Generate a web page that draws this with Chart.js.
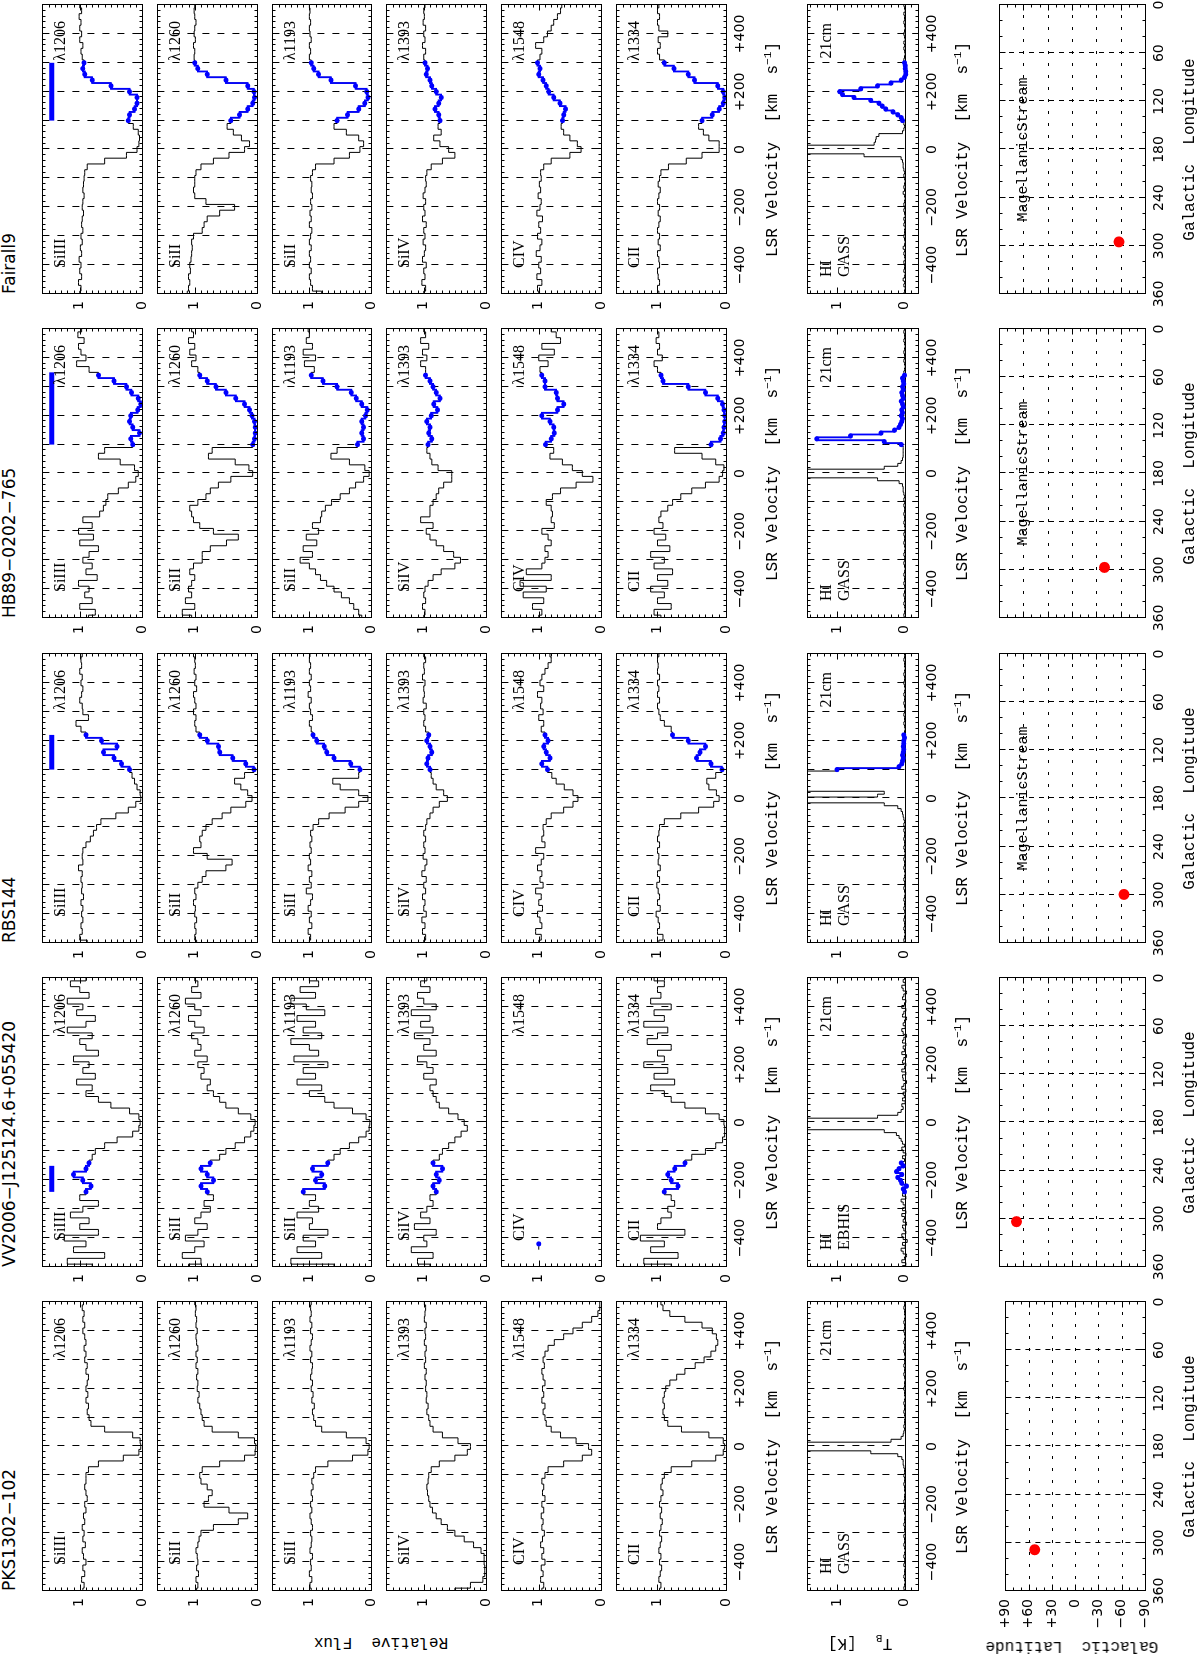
<!DOCTYPE html>
<html>
<head>
<meta charset="utf-8">
<script src="https://cdn.jsdelivr.net/npm/chart.js@4.4.0/dist/chart.umd.min.js"></script>
<style>
  html, body { margin: 0; padding: 0; background: #fff; overflow: hidden; width: 1200px; height: 1655px; }
  /* the figure is laid out landscape and turned a quarter turn counter-clockwise */
  #fig { position: absolute; left: 0; top: 0; width: 1655px; height: 1200px;
         transform-origin: 0 0; transform: translate(0, 1655px) rotate(-90deg); }
  #fig canvas { position: absolute; }
  .txt { position: absolute; white-space: nowrap; line-height: 1; color: #000; }
  .ttl { font: 17px "DejaVu Sans"; }
  .ion { font: 16px "Liberation Serif"; }
  .axt { font: 16px "Liberation Mono"; }
  .ms  { font: 15px "Liberation Mono"; }
  sup { font-size: 70%; vertical-align: 0.5em; }
  sub { font-size: 70%; vertical-align: -0.3em; }
</style>
</head>
<body>
<div id="fig"></div>
<script>
// ========= velocity grids =========
const VEL = [-500,-480,-460,-440,-420,-400,-380,-360,-340,-320,-300,-280,-260,-240,-220,-200,-180,-160,-140,-120,-100,-80,-60,-40,-20,0,20,40,60,80,100,120,140,160,180,200,220,240,260,280,300,320,340,360,380,400,420,440,460,480,500];
const VEL_HI = [-500,-490,-480,-470,-460,-450,-440,-430,-420,-410,-400,-390,-380,-370,-360,-350,-340,-330,-320,-310,-300,-290,-280,-270,-260,-250,-240,-230,-220,-210,-200,-190,-180,-170,-160,-150,-140,-130,-120,-110,-100,-90,-80,-70,-60,-50,-40,-30,-20,-10,0,10,20,30,40,50,60,70,80,90,100,110,120,130,140,150,160,170,180,190,200,210,220,230,240,250,260,270,280,290,300,310,320,330,340,350,360,370,380,390,400,410,420,430,440,450,460,470,480,490,500];

// ========= labels =========
const SOURCES = ["PKS1302\u2212102", "VV2006\u2212J125124.6+055420", "RBS144", "HB89\u22120202\u2212765", "Fairall9"];
const HI_SURVEY = ["GASS", "EBHIS", "GASS", "GASS", "GASS"];
const IONS = ["SiIII", "SiII", "SiII", "SiIV", "CIV", "CII"];
const LINES = ["\u03bb1206", "\u03bb1260", "\u03bb1193", "\u03bb1393", "\u03bb1548", "\u03bb1334"];
const VEL_TICKS = [-400, -200, 0, 200, 400];
const LON_TICKS = [0, 60, 120, 180, 240, 300, 360];
const LAT_TICKS = [-90, -60, -30, 0, 30, 60, 90];

// ========= sight line positions (l, b) =========
const GAL_L = [308.6, 303.5, 299.5, 297.0, 295.1];
const GAL_B = [52.2, 68.5, -64.0, -40.0, -57.8];
const MS_LABEL = [false, false, true, true, true];

// ========= Magellanic Stream windows (blue) =========
const WIN_PKS = null;
const WIN_VV = [-240, -140];
const WIN_VV_CIV = [-420, -420];
const WIN_RB = [100, 220];
const WIN_HB = [100, 340];
const WIN_F9 = [100, 300];
const BAR_VV = [-240, -150];
const BAR_RB = [100, 220];
const BAR_HB = [100, 350];
const BAR_F9 = [100, 300];
const BAR_FLUX = 1.45;

// ========= normalised flux, PKS1302-102 =========
const PKS_SiIII = [0.95,0.93,0.97,0.92,0.95,0.9,0.94,0.96,0.91,0.95, 0.93,0.96,0.92,0.94,0.9,0.92,0.88,0.9,0.92,0.9, 0.9,0.86,0.7,0.3,0.05, 0.02,0.03,0.15,0.6,0.82, 0.85,0.88,0.86,0.9,0.87, 0.9,0.88,0.86,0.9,0.88, 0.92,0.9,0.93,0.9,0.92, 0.95,0.92,0.95,0.93,0.96, 0.94];
const PKS_SiII1260 = [0.97,0.95,0.98,0.94,0.97,0.95,0.96,0.98,0.95,0.93, 0.9,0.7,0.3,0.15,0.45,0.85,0.78,0.72,0.8,0.9, 0.92,0.88,0.6,0.2,0.03, 0.02,0.04,0.3,0.72,0.85, 0.88,0.9,0.92,0.95,0.93, 0.96,0.95,0.97,0.95,0.98, 0.96,0.98,0.95,0.97,0.98, 0.96,0.98,0.97,0.99,0.98, 1.0];
const PKS_SiII1193 = [0.97,0.99,0.96,1.0,0.97,0.98,0.95,0.99,0.97,0.96, 0.98,0.95,0.97,0.99,0.96,0.98,0.95,0.97,0.94,0.96, 0.93,0.9,0.7,0.3,0.05, 0.03,0.08,0.4,0.8,0.9, 0.93,0.95,0.92,0.96,0.94, 0.97,0.95,0.98,0.96,0.95, 0.98,0.96,0.99,0.97,0.95, 0.98,0.96,0.99,0.97,0.98, 0.97];
const PKS_SiIV = [0.5,0.25,0.05,0.02,0.02,0.03,0.03,0.08,0.2,0.35, 0.5,0.62,0.72,0.8,0.86,0.9,0.92,0.94,0.95,0.93, 0.92,0.88,0.75,0.5,0.3, 0.25,0.45,0.7,0.85,0.9, 0.92,0.95,0.93,0.96,0.95, 0.97,0.96,0.98,0.96,0.99, 0.97,0.98,0.96,0.99,0.97, 0.98,0.96,0.99,0.98,0.97, 0.99];
const PKS_CIV = [0.95,0.92,0.97,0.93,0.96,0.9,0.95,0.92,0.97,0.94, 0.91,0.95,0.93,0.96,0.92,0.95,0.9,0.94,0.92,0.95, 0.9,0.85,0.6,0.3,0.15, 0.2,0.4,0.65,0.8,0.88, 0.9,0.93,0.9,0.95,0.92, 0.94,0.9,0.93,0.95,0.91, 0.93,0.9,0.85,0.75,0.6, 0.45,0.3,0.15,0.05,0.02, 0.02];
const PKS_CII = [0.97,0.95,0.98,0.96,0.94,0.97,0.95,0.98,0.96,0.94, 0.97,0.95,0.93,0.96,0.94,0.97,0.95,0.92,0.95,0.93, 0.9,0.8,0.5,0.15,0.04, 0.02,0.04,0.25,0.65,0.85, 0.9,0.92,0.9,0.92,0.9, 0.88,0.82,0.72,0.6,0.45, 0.32,0.22,0.15,0.12,0.14, 0.2,0.35,0.6,0.82,0.92, 0.95];

// ========= normalised flux, VV2006-J125124.6+055420 =========
const VV_SiIII = [0.8,1.2,0.6,1.1,0.9,1.25,0.7,1.0,0.85,1.15, 0.95,0.7,1.0,0.9,0.82,0.95,1.1,0.9,0.85,0.8, 0.75,0.6,0.4,0.15,0.05, 0.03,0.05,0.2,0.5,0.7, 0.9,0.8,1.05,0.75,0.95, 0.85,1.1,0.7,0.9,1.0, 0.8,1.2,0.9,0.75,1.05, 0.95,1.2,0.85,1.0,1.15, 0.9];
const VV_SiII1260 = [1.1,0.9,1.2,1.0,0.85,1.15,0.95,0.8,1.0,0.9, 0.75,0.85,0.7,0.8,0.9,0.7,0.8,0.9,0.75,0.6, 0.5,0.35,0.2,0.1,0.05, 0.03,0.1,0.3,0.5,0.6, 0.7,0.8,0.75,0.9,0.85, 0.95,0.8,1.0,0.9,0.95, 1.05,0.85,1.0,1.1,0.9, 1.0,1.15,0.9,1.05,0.95, 1.0];
const VV_SiII1193 = [0.6,1.3,0.8,1.2,0.9,1.1,0.7,1.0,0.95,1.2, 0.85,1.0,0.9,1.1,0.75,0.9,0.8,0.95,0.7,0.6, 0.5,0.35,0.2,0.08,0.03, 0.02,0.08,0.3,0.6,0.75, 1.0,0.8,1.2,0.9,1.1, 0.7,1.25,0.85,1.0,1.3, 0.8,1.1,0.9,1.2,0.75, 1.05,1.3,0.9,1.15,0.85, 1.0];
const VV_SiIV = [0.9,1.1,0.85,1.2,0.95,1.0,0.8,1.15,0.9,1.05, 0.95,0.85,0.9,0.8,0.85,0.75,0.8,0.7,0.85,0.75, 0.7,0.6,0.5,0.4,0.3, 0.35,0.45,0.6,0.75,0.8, 0.85,0.9,0.8,1.0,0.85, 0.95,1.1,0.8,1.0,0.9, 1.15,0.85,1.05,0.9,1.2, 0.8,1.0,1.1,0.9,1.05, 0.95];
const VV_CIV = [null, null, null, 1.0, 1.0];
const VV_CII = [0.8,1.2,0.7,1.1,0.9,1.25,0.6,1.0,0.95,0.8, 0.85,0.75,0.8,0.9,0.7,0.8,0.85,0.75,0.6,0.5, 0.3,0.15,0.05,0.02,0.02, 0.03,0.1,0.3,0.6,0.8, 0.9,1.1,0.75,1.05,0.85, 1.2,0.9,1.0,0.8,1.15, 1.0,0.85,1.2,0.9,1.05, 0.8,1.1,0.95,1.0,0.9, 1.05];

// ========= normalised flux, RBS144 =========
const RB_SiIII = [0.88,1.0,0.96,0.98,0.95,0.97,0.95,0.98,0.94,0.97, 0.96,0.98,0.96,1.02,0.95,0.96,0.95,0.9,0.83,0.78, 0.73,0.66,0.42,0.22,0.1, 0.02,0.03,0.08,0.12,0.16, 0.2,0.33,0.45,0.62,0.4, 0.65,0.9,0.98,1.06,0.86, 0.95,0.96,1.0,0.97,0.95, 0.98,0.96,1.0,0.97,0.98, 0.96];
const RB_SiII1260 = [0.97,1.0,0.98,1.0,0.97,1.0,0.99,1.02,0.98,1.0, 0.95,0.88,0.82,0.5,0.4,0.8,1.02,0.9,0.92,0.88, 0.82,0.72,0.56,0.42,0.18, 0.08,0.15,0.26,0.36,0.2, 0.05,0.18,0.39,0.6,0.62, 0.8,0.92,0.98,1.0,0.98, 1.02,0.98,1.0,1.02,0.97, 1.0,0.98,1.01,0.99,1.0, 1.02];
const RB_SiII1193 = [1.0,0.98,1.02,0.96,1.0,0.97,1.02,0.98,0.95,1.05, 0.97,1.0,0.96,1.02,0.98,1.0,0.97,0.99,0.96,0.98, 0.94,0.85,0.68,0.42,0.2, 0.05,0.2,0.5,0.62,0.2, 0.18,0.33,0.6,0.72,0.76, 0.88,0.94,0.97,1.0,0.95, 0.98,1.0,0.97,1.02,0.98, 1.0,0.97,1.0,0.98,1.0, 0.99];
const RB_SiIV = [1.0,0.97,1.02,0.98,1.03,0.96,1.0,0.98,1.02,0.97, 1.0,0.96,1.03,0.98,0.95,1.01,0.98,1.0,0.97,1.0, 0.97,0.95,0.9,0.85,0.75, 0.62,0.68,0.8,0.85,0.88, 0.9,0.95,0.93,0.87,0.9, 0.95,0.92,0.97,1.0,0.98, 1.0,0.96,1.01,0.99,1.0, 0.98,1.02,0.99,1.0,0.97, 1.0];
const RB_CIV = [1.0,0.96,1.05,0.95,0.98,1.02,0.94,1.0,0.96,1.05, 0.93,0.98,0.95,1.02,0.96,0.92,1.05,0.9,0.95,0.92, 0.93,0.88,0.8,0.6,0.45, 0.37,0.45,0.59,0.72,0.79, 0.86,0.95,0.82,0.88,0.92, 0.85,0.9,0.96,0.92,1.0, 0.93,0.97,0.95,1.02,0.92, 0.98,0.95,0.9,0.85,0.8, 0.82];
const RB_CII = [0.98,0.92,1.0,0.97,0.99,1.02,0.96,1.0,0.97,0.99, 1.01,0.97,1.0,0.96,0.99,0.98,1.0,0.97,1.0,0.98, 0.97,0.9,0.66,0.4,0.18, 0.1,0.14,0.25,0.28,0.15, 0.06,0.22,0.43,0.38,0.3, 0.55,0.78,0.8,0.9,0.96, 0.98,1.0,0.97,1.0,0.98, 1.0,0.97,1.0,0.99,1.0, 0.98];

// ========= normalised flux, HB89-0202-765 =========
const HB_SiIII = [0.86,0.75,1.0,0.8,0.92,0.85,1.02,0.72,0.9,0.8, 0.95,0.85,0.7,1.0,0.78,1.02,0.8,0.95,0.68,0.62, 0.58,0.55,0.38,0.22,0.1, 0.06,0.12,0.35,0.7,0.6, 0.15,0.18,0.04,0.15,0.2, 0.18,0.07,0.02,0.06,0.17, 0.25,0.45,0.7,0.85,1.05, 0.9,0.98,1.02,0.93,1.03, 0.97];
const HB_SiII1260 = [1.05,1.2,1.0,1.15,1.05,1.1,1.05,1.0,1.08,1.02, 0.88,0.88,0.75,0.49,0.3,0.7,0.92,1.02,1.05,1.08, 0.95,0.82,0.75,0.62,0.42, 0.07,0.13,0.35,0.78,0.72, 0.07,0.04,0.03,0.03,0.04, 0.08,0.12,0.2,0.34,0.5, 0.66,0.8,0.92,0.95,1.05, 0.98,1.08,1.0,1.1,1.02, 1.05];
const HB_SiII1193 = [0.15,0.2,0.28,0.35,0.48,0.6,0.72,0.82,0.9,1.0, 1.15,0.95,1.1,0.88,1.05,0.85,0.95,0.82,0.8,0.74, 0.64,0.5,0.35,0.25,0.12, 0.03,0.1,0.35,0.65,0.55, 0.22,0.12,0.15,0.12,0.15, 0.09,0.06,0.15,0.24,0.32, 0.55,0.78,0.97,0.92,1.08, 0.9,1.1,0.95,1.05,1.0, 1.02];
const HB_SiIV = [1.0,0.98,1.02,0.97,1.0,0.98,0.93,0.85,0.72,0.5, 0.41,0.52,0.68,0.8,0.9,0.96,0.85,1.05,0.9,0.9, 0.85,0.8,0.76,0.68,0.55, 0.55,0.77,0.87,0.9,0.95, 0.93,0.87,0.92,0.9,0.95, 0.88,0.78,0.84,0.74,0.8, 0.85,0.9,0.97,0.97,1.05, 0.95,1.02,0.92,1.05,0.97, 1.0];
const HB_CIV = [1.0,0.95,1.1,0.92,1.25,0.88,1.3,0.8,1.2,0.95, 0.9,0.85,0.9,0.8,0.85,0.95,0.75,0.8,0.78,0.8, 0.88,0.78,0.65,0.4,0.13, 0.3,0.46,0.62,0.82,0.76, 0.89,0.8,0.75,0.76,0.82, 0.95,0.7,0.6,0.7,0.72, 0.9,0.9,0.95,0.98,0.85, 1.0,0.75,0.95,0.65,0.72, 0.8];
const HB_CII = [0.95,1.05,0.8,1.0,0.9,1.1,0.85,1.0,0.78,1.05, 0.9,1.1,0.82,1.0,0.88,1.05,0.92,0.98,0.95,0.85, 0.78,0.66,0.5,0.3,0.1, 0.05,0.03,0.15,0.35,0.75, 0.22,0.08,0.04,0.03,0.02, 0.02,0.03,0.05,0.12,0.3, 0.55,0.92,0.95,1.0,1.05, 0.93,1.0,0.97,1.02,0.98, 1.0];

// ========= normalised flux, Fairall9 =========
const F9_SiIII = [1.0,0.98,1.02,0.97,1.0,0.98,1.01,0.97,0.99,0.96, 0.98,0.95,0.97,0.96,0.94,0.96,0.95,0.93,0.95,0.94, 0.93,0.92,0.88,0.6,0.25, 0.08,0.05,0.04,0.06,0.14, 0.22,0.2,0.12,0.08,0.08, 0.2,0.5,0.8,0.92,0.95, 0.93,0.96,0.98,0.95,1.0, 0.97,1.0,0.98,1.01,0.97, 1.0];
const F9_SiII1260 = [1.12,1.1,1.08,1.1,1.07,1.08,1.06,1.05,1.04,1.05, 1.02,0.88,0.85,0.8,0.6,0.36,0.82,1.0,1.02,1.0, 1.0,0.98,0.9,0.7,0.45, 0.2,0.12,0.25,0.38,0.48, 0.42,0.28,0.15,0.07,0.04, 0.05,0.15,0.5,0.8,0.95, 1.0,1.01,1.0,1.02,0.99, 1.01,1.0,0.98,1.0,1.01, 1.0];
const F9_SiII1193 = [0.8,0.95,0.98,1.0,0.97,1.0,0.98,1.0,0.97,1.0, 0.98,0.96,1.0,0.97,0.99,0.96,0.98,0.95,0.97,0.96, 0.98,0.95,0.9,0.6,0.35, 0.18,0.12,0.2,0.4,0.6, 0.55,0.38,0.2,0.1,0.05, 0.07,0.25,0.65,0.85,0.93, 0.97,1.0,0.98,1.0,0.97, 0.99,1.0,0.98,1.0,0.99, 1.0];
const F9_SiIV = [1.0,0.97,1.03,0.98,1.0,0.96,1.02,0.99,0.97,1.01, 0.98,1.0,0.96,1.02,0.98,1.0,0.97,1.01,0.98,0.96, 0.97,0.95,0.88,0.7,0.5, 0.6,0.74,0.84,0.72,0.77, 0.74,0.76,0.82,0.76,0.72, 0.8,0.87,0.9,0.96,0.94, 0.98,1.0,0.97,1.02,0.98, 1.0,0.97,1.01,0.99,1.0, 0.98];
const F9_CIV = [1.0,1.02,0.95,1.03,0.97,1.0,0.96,1.04,0.98,0.95, 1.02,0.97,1.0,0.94,1.03,0.98,0.96,1.01,0.97,0.99, 0.96,0.97,0.92,0.8,0.5, 0.32,0.38,0.5,0.6,0.64, 0.62,0.6,0.57,0.66,0.76, 0.84,0.88,0.93,1.0,0.98, 1.02,0.98,0.95,1.05,0.92, 0.86,0.8,0.76,0.7,0.65, 0.63];
const F9_CII = [0.98,1.0,0.97,0.99,1.0,0.97,0.98,1.0,0.96,0.99, 0.97,1.0,0.98,0.96,0.99,0.97,1.0,0.98,0.96,0.99, 0.97,0.95,0.84,0.58,0.35, 0.1,0.1,0.25,0.33,0.4, 0.35,0.2,0.1,0.04,0.02, 0.04,0.12,0.46,0.55,0.76, 0.9,0.97,1.0,0.96,0.99, 0.85,0.98,1.0,0.97,1.0, 0.98];

// ========= 21cm brightness (normalised) =========
const PKS_HI = [0.0,0.01,0.0,-0.01,0.0,0.01,0.0,0.0,-0.01,0.01, 0.0,0.0,0.01,0.0,-0.01,0.0,0.01,0.0,0.0,0.01, -0.01,0.0,0.0,0.01,0.0,0.0,-0.01,0.0,0.01,0.0, 0.0,0.01,0.0,0.0,-0.01,0.0,0.0,0.01,0.0,0.0, 0.01,0.0,0.0,0.01,0.02,0.02,0.04,0.1,0.5,3.0, 3.0,2.0,0.2,0.05,0.02,0.01,0.0,0.01,0.0,0.0, -0.01,0.0,0.01,0.0,0.0,0.01,0.0,-0.01,0.0,0.0, 0.01,0.0,0.0,-0.01,0.0,0.01,0.0,0.0,0.01,0.0, 0.0,-0.01,0.0,0.01,0.0,0.0,0.01,0.0,-0.01,0.0, 0.01,0.0,0.0,0.01,0.0,-0.01,0.0,0.0,0.01,0.0, 0.0];
const VV_HI = [0.03,-0.02,0.04,0.0,-0.03,0.02,0.05,-0.01,0.03,-0.04, 0.02,0.04,-0.02,0.01,0.03,-0.03,0.02,0.0,0.04,-0.02, 0.03,-0.01,0.02,0.05,-0.02,0.03,0.0,0.02,-0.03,0.04, 0.06,0.1,0.04,0.12,0.08,0.02,0.05,0.0,0.03,-0.02, 0.02,0.04,0.0,0.03,0.05,0.08,0.12,0.3,1.5,3.0, 3.0,1.8,0.4,0.1,0.05,0.02,0.04,-0.01,0.03,0.0, 0.02,-0.02,0.04,0.01,-0.03,0.02,0.03,-0.02,0.04,0.0, -0.02,0.03,0.01,-0.03,0.04,0.0,0.02,-0.02,0.03,0.01, -0.03,0.02,0.04,-0.01,0.02,0.0,-0.03,0.03,0.01,-0.02, 0.04,0.0,-0.02,0.03,0.01,-0.03,0.02,0.04,-0.01,0.02, 0.0];
const RB_HI = [0.0,0.01,0.0,-0.01,0.0,0.01,0.0,0.0,0.01,0.0, -0.01,0.0,0.01,0.0,0.0,0.01,0.0,-0.01,0.0,0.01, 0.0,0.0,0.01,0.0,-0.01,0.0,0.01,0.0,0.0,0.01, 0.0,-0.01,0.0,0.01,0.0,0.0,0.01,0.0,0.0,0.01, 0.0,0.01,0.0,0.01,0.02,0.03,0.05,0.1,0.3,3.0, 3.0,0.4,0.3,3.0,3.0,3.0,3.0,3.0,3.0,2.0, 1.0,0.08,0.04,0.03,0.02,0.03,0.02,0.01,0.02,0.01, 0.01,0.0,0.01,0.0,-0.01,0.0,0.01,0.0,0.0,0.01, 0.0,-0.01,0.0,0.01,0.0,0.0,0.01,0.0,-0.01,0.0, 0.01,0.0,0.0,0.01,0.0,-0.01,0.0,0.0,0.01,0.0, 0.0];
const HB_HI = [0.0,0.01,0.0,-0.01,0.0,0.01,0.0,0.0,0.01,0.0, -0.01,0.0,0.01,0.0,0.0,0.01,0.0,-0.01,0.0,0.01, 0.0,0.0,0.01,0.0,-0.01,0.0,0.01,0.0,0.0,0.01, 0.0,-0.01,0.0,0.01,0.0,0.0,0.01,0.0,0.0,0.01, 0.0,0.01,0.0,0.01,0.02,0.02,0.03,0.08,0.4,3.0, 3.0,2.0,0.3,0.1,0.05,0.03,0.02,0.02,0.02,0.02, 0.05,0.3,1.3,0.8,0.35,0.15,0.08,0.06,0.04,0.03, 0.05,0.03,0.04,0.02,0.03,0.05,0.02,0.03,0.04,0.02, 0.03,0.01,0.02,0.03,0.0,0.01,0.0,-0.01,0.0,0.01, 0.0,0.0,0.01,0.0,-0.01,0.0,0.01,0.0,0.0,0.01, 0.0];
const F9_HI = [0.01,0.0,-0.01,0.01,0.0,0.02,0.0,-0.01,0.01,0.0, 0.0,0.01,-0.01,0.0,0.01,0.0,0.02,0.0,-0.01,0.0, 0.01,0.0,0.0,-0.01,0.01,0.0,0.01,-0.01,0.0,0.01, 0.0,0.01,0.0,-0.01,0.0,0.02,0.0,0.01,0.0,-0.01, 0.0,0.01,0.0,0.01,0.02,0.02,0.03,0.05,0.6,3.0, 3.0,3.0,0.45,0.43,0.42,0.38,0.03,0.01,0.0,0.01, 0.03,0.05,0.1,0.17,0.28,0.33,0.38,0.5,0.75,0.92, 0.96,0.65,0.4,0.2,0.05,0.0,-0.02,-0.02,-0.01,-0.01, 0.0,0.01,0.0,-0.01,0.0,0.01,0.0,0.01,-0.01,0.0, 0.01,0.0,-0.01,0.0,0.01,0.0,0.0,0.01,-0.01,0.0, 0.01];

// ========= tables built from the arrays =========
const ABS = [
  [PKS_SiIII, PKS_SiII1260, PKS_SiII1193, PKS_SiIV, PKS_CIV, PKS_CII],
  [VV_SiIII, VV_SiII1260, VV_SiII1193, VV_SiIV, VV_CIV, VV_CII],
  [RB_SiIII, RB_SiII1260, RB_SiII1193, RB_SiIV, RB_CIV, RB_CII],
  [HB_SiIII, HB_SiII1260, HB_SiII1193, HB_SiIV, HB_CIV, HB_CII],
  [F9_SiIII, F9_SiII1260, F9_SiII1193, F9_SiIV, F9_CIV, F9_CII],
];
const HI = [PKS_HI, VV_HI, RB_HI, HB_HI, F9_HI];
const WIN = [WIN_PKS, WIN_VV, WIN_RB, WIN_HB, WIN_F9];
const WIN_ABS = [
  [WIN_PKS, WIN_PKS, WIN_PKS, WIN_PKS, WIN_PKS, WIN_PKS],
  [WIN_VV, WIN_VV, WIN_VV, WIN_VV, WIN_VV_CIV, WIN_VV],
  [WIN_RB, WIN_RB, WIN_RB, WIN_RB, WIN_RB, WIN_RB],
  [WIN_HB, WIN_HB, WIN_HB, WIN_HB, WIN_HB, WIN_HB],
  [WIN_F9, WIN_F9, WIN_F9, WIN_F9, WIN_F9, WIN_F9],
];
const BAR = [null, BAR_VV, BAR_RB, BAR_HB, BAR_F9];

// ========= layout (landscape figure coordinates) =========
const COL_LEFT = [64, 388, 712, 1037, 1361];
const PANEL_W = 289;
const ABS_TOP = [37, 152, 267, 381, 496, 611, 726];
const HI_TOP = 802, HI_H = 116;
const MAP_TOP = 999, MAP_H = 146;
const BLUE = "#0000ff";

const fig = document.getElementById("fig");

function fmtSigned(v) {
  if (v > 0) return "+" + v;
  if (v < 0) return "\u2212" + (-v);
  return "0";
}

// frame, inward ticks and dashed guide lines, all placed through the chart scales
const deco = {
  id: "deco",
  beforeDatasetsDraw(chart, args, o) {
    const { ctx, chartArea: a } = chart;
    const sx = chart.scales.x, sy = chart.scales.y;
    ctx.save();
    ctx.strokeStyle = "#000";
    ctx.lineWidth = 1;
    ctx.setLineDash(o.xDashPattern || [6, 6]);
    for (const v of o.xDash || []) {
      const p = Math.round(sx.getPixelForValue(v)) + 0.5;
      ctx.beginPath(); ctx.moveTo(p, a.top); ctx.lineTo(p, a.bottom); ctx.stroke();
    }
    ctx.setLineDash(o.yDashPattern || [6, 6]);
    for (const v of o.yDash || []) {
      const p = Math.round(sy.getPixelForValue(v)) + 0.5;
      ctx.beginPath(); ctx.moveTo(a.left, p); ctx.lineTo(a.right, p); ctx.stroke();
    }
    ctx.setLineDash([]);
    if (o.zeroLine) {
      const p = Math.round(sy.getPixelForValue(0)) + 0.5;
      ctx.beginPath(); ctx.moveTo(a.left, p); ctx.lineTo(a.right, p); ctx.stroke();
    }
    ctx.restore();
  },
  afterDatasetsDraw(chart, args, o) {
    const { ctx, chartArea: a } = chart;
    const sx = chart.scales.x, sy = chart.scales.y;
    const L = Math.round(a.left) + 0.5, R = Math.round(a.right) + 0.5;
    const T = Math.round(a.top) + 0.5, B = Math.round(a.bottom) + 0.5;
    ctx.save();
    ctx.strokeStyle = "#000";
    ctx.lineWidth = 1;
    ctx.setLineDash([]);
    ctx.strokeRect(L, T, R - L, B - T);
    ctx.beginPath();
    const nx = Math.round((sx.max - sx.min) / o.xMinor);
    for (let i = 0; i <= nx; i++) {
      const v = sx.min + i * o.xMinor;
      const r = v / o.xMajor;
      const len = Math.abs(r - Math.round(r)) < 1e-6 ? 6 : 3;
      const p = Math.round(sx.getPixelForValue(v)) + 0.5;
      ctx.moveTo(p, B); ctx.lineTo(p, B - len);
      ctx.moveTo(p, T); ctx.lineTo(p, T + len);
    }
    const ny = Math.round((sy.max - sy.min) / o.yMinor + 1e-6);
    for (let i = 0; i <= ny; i++) {
      const v = sy.min + i * o.yMinor;
      const r = v / o.yMajor;
      const len = Math.abs(r - Math.round(r)) < 1e-6 ? 6 : 3;
      const p = Math.round(sy.getPixelForValue(v)) + 0.5;
      ctx.moveTo(L, p); ctx.lineTo(L + len, p);
      ctx.moveTo(R, p); ctx.lineTo(R - len, p);
    }
    ctx.stroke();
    ctx.restore();
  }
};

function addCanvas(x, y, w, h, padL, padR, padT, padB) {
  const c = document.createElement("canvas");
  const W = w + padL + padR, H = h + padT + padB;
  c.width = W; c.height = H;
  c.style.width = W + "px"; c.style.height = H + "px";
  c.style.left = (x - padL) + "px"; c.style.top = (y - padT) + "px";
  fig.appendChild(c);
  return c;
}

function addText(html, x, y, cls, anchor, rotate) {
  const d = document.createElement("div");
  d.className = "txt " + cls;
  d.innerHTML = html;
  d.style.left = x + "px";
  d.style.top = y + "px";
  const tx = anchor === "c" ? "-50%" : anchor === "r" ? "-100%" : "0";
  d.style.transform = "translate(" + tx + ", -50%)" + (rotate ? " rotate(-90deg)" : "");
  fig.appendChild(d);
}

const TICK_FONT = { family: "DejaVu Sans", size: 14 };

function spectrumChart(canvas, vel, flux, win, bar, o) {
  const pts = [];
  flux.forEach((f, i) => { if (f !== null) pts.push({ x: vel[i], y: f }); });
  const blue = win ? pts.filter(p => p.x >= win[0] && p.x <= win[1]) : [];
  const datasets = [
    { data: pts, borderColor: "#000", borderWidth: 1, pointRadius: 0, stepped: "middle", order: 3 },
    { data: blue, borderColor: BLUE, backgroundColor: BLUE, borderWidth: 1.8, pointRadius: 2.5,
      pointBorderWidth: 0, pointBackgroundColor: BLUE, stepped: "middle", order: 2 },
  ];
  if (bar) {
    datasets.push({ data: [{ x: bar[0], y: BAR_FLUX }, { x: bar[1], y: BAR_FLUX }],
      borderColor: BLUE, borderWidth: 5, borderCapStyle: "butt", pointRadius: 0, order: 1 });
  }
  return new Chart(canvas, {
    type: "line",
    data: { datasets },
    plugins: [deco],
    options: {
      responsive: false, animation: false, devicePixelRatio: 1, events: [],
      layout: { padding: { left: 0, right: o.padR, top: o.padT, bottom: o.showX ? 0 : o.padB } },
      plugins: {
        legend: { display: false }, tooltip: { enabled: false },
        deco: { xDash: [-400, -300, -200, -100, 0, 100, 200, 300, 400], xDashPattern: [7, 8],
                xMinor: 20, xMajor: 100, yMinor: 0.1, yMajor: 1, zeroLine: o.zeroLine }
      },
      scales: {
        x: {
          type: "linear", min: -500, max: 500, display: o.showX,
          grid: { display: false, drawTicks: false }, border: { display: false },
          afterBuildTicks: s => { s.ticks = VEL_TICKS.map(v => ({ value: v })); },
          afterFit: s => { s.height = o.padB; },
          ticks: { callback: v => fmtSigned(v), font: TICK_FONT, color: "#000", padding: 6, maxRotation: 0, autoSkip: false }
        },
        y: {
          type: "linear", min: o.yMin, max: o.yMax,
          grid: { display: false, drawTicks: false }, border: { display: false },
          afterBuildTicks: s => { s.ticks = [{ value: 0 }, { value: 1 }]; },
          afterFit: s => { s.width = o.padL; },
          ticks: { font: TICK_FONT, color: "#000", padding: 7 }
        }
      }
    }
  });
}

function mapChart(canvas, l, b, o) {
  return new Chart(canvas, {
    type: "scatter",
    data: { datasets: [{ data: [{ x: l, y: b }], pointRadius: 5.5, pointBorderWidth: 0,
                         pointBackgroundColor: "#ff0000", backgroundColor: "#ff0000" }] },
    plugins: [deco],
    options: {
      responsive: false, animation: false, devicePixelRatio: 1, events: [],
      layout: { padding: { left: 0, right: o.padR, top: o.padT, bottom: 0 } },
      plugins: {
        legend: { display: false }, tooltip: { enabled: false },
        deco: { xDash: [60, 120, 180, 240, 300], xDashPattern: [5, 5],
                yDash: [-60, -30, 0, 30, 60], yDashPattern: [3, 9],
                xMinor: 20, xMajor: 60, yMinor: 10, yMajor: 30 }
      },
      scales: {
        x: {
          type: "linear", min: 0, max: 360, reverse: true,
          grid: { display: false, drawTicks: false }, border: { display: false },
          afterBuildTicks: s => { s.ticks = LON_TICKS.map(v => ({ value: v })); },
          afterFit: s => { s.height = o.padB; },
          ticks: { font: TICK_FONT, color: "#000", padding: 6, maxRotation: 0, autoSkip: false }
        },
        y: {
          type: "linear", min: -90, max: 90,
          grid: { display: false, drawTicks: false }, border: { display: false },
          afterBuildTicks: s => { s.ticks = LAT_TICKS.map(v => ({ value: v })); },
          afterFit: s => { s.width = o.padL; },
          ticks: { display: o.latLabels, callback: v => fmtSigned(v), font: TICK_FONT, color: "#000", padding: 8, autoSkip: false }
        }
      }
    }
  });
}

// ========= build the grid of panels =========
for (let c = 0; c < 5; c++) {
  const x0 = COL_LEFT[c];
  const xc = x0 + PANEL_W / 2;

  addText(SOURCES[c], x0, 9, "ttl", "l");

  for (let k = 0; k < 6; k++) {
    const top = ABS_TOP[k], h = ABS_TOP[k + 1] - ABS_TOP[k];
    const last = k === 5;
    const o = { padL: 40, padR: 8, padT: 10, padB: last ? 40 : 10, showX: last, yMin: 0, yMax: 1.6 };
    const cv = addCanvas(x0, top, PANEL_W, h, o.padL, o.padR, o.padT, o.padB);
    spectrumChart(cv, VEL, ABS[c][k], WIN_ABS[c][k], k === 0 ? BAR[c] : null, o);
    addText(IONS[k], x0 + 26, top + 23, "ion", "l");
    addText(LINES[k], x0 + PANEL_W - 16, top + 23, "ion", "r");
  }
  addText("LSR Velocity&nbsp;&nbsp;[km&nbsp;&nbsp;s<sup>\u22121</sup>]", xc, 772, "axt", "c");

  // 21cm panel
  const oh = { padL: 40, padR: 8, padT: 10, padB: 40, showX: true, yMin: -0.2, yMax: 1.44, zeroLine: true };
  const ch = addCanvas(x0, HI_TOP, PANEL_W, HI_H, oh.padL, oh.padR, oh.padT, oh.padB);
  spectrumChart(ch, VEL_HI, HI[c], WIN[c], null, oh);
  addText("HI", x0 + 17, HI_TOP + 24, "ion", "l");
  addText(HI_SURVEY[c], x0 + 17, HI_TOP + 42, "ion", "l");
  addText("21cm", x0 + PANEL_W - 18, HI_TOP + 24, "ion", "r");
  addText("LSR Velocity&nbsp;&nbsp;[km&nbsp;&nbsp;s<sup>\u22121</sup>]", xc, 962, "axt", "c");

  // sky position
  const om = { padL: 50, padR: 8, padT: 10, padB: 35, latLabels: c === 0 };
  const cm = addCanvas(x0, MAP_TOP, PANEL_W, MAP_H, om.padL, om.padR, om.padT, om.padB);
  mapChart(cm, GAL_L[c], GAL_B[c], om);
  if (MS_LABEL[c]) addText("MagellanicStream", xc, MAP_TOP + 24, "ms", "c");
  addText("Galactic&nbsp;&nbsp;Longitude", xc, 1190, "axt", "c");
}

addText("Relative&nbsp;&nbsp;Flux", 13, 381, "axt", "c", true);
addText("T<sub>B</sub>&nbsp;&nbsp;[K]", 13, 860, "axt", "c", true);
addText("Galactic&nbsp;&nbsp;Latitude", 9, 1072, "axt", "c", true);
</script>
</body>
</html>
